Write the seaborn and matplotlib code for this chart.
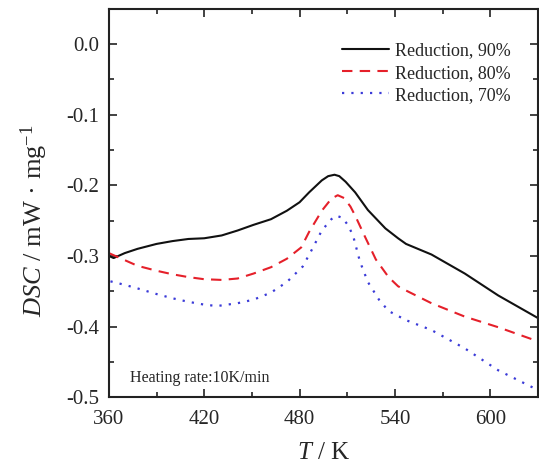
import matplotlib
matplotlib.use("Agg")
import matplotlib.pyplot as plt
import seaborn as sns
import pandas as pd
from matplotlib.ticker import MultipleLocator

# ---- data ----
t90 = [360, 363, 370, 378, 390, 400, 410, 420, 431, 441, 451, 462, 472, 480, 486,
       494, 498, 502, 505, 509, 515, 523, 534, 542, 547, 563, 584, 605, 630]
v90 = [-0.300, -0.303, -0.296, -0.290, -0.283, -0.279, -0.276, -0.275, -0.271, -0.264,
       -0.256, -0.248, -0.236, -0.224, -0.210, -0.193, -0.187, -0.185, -0.187, -0.195,
       -0.210, -0.235, -0.261, -0.275, -0.283, -0.298, -0.325, -0.356, -0.388]

t80 = [360, 370, 378, 390, 400, 410, 420, 431, 441, 451, 462, 472, 481, 486, 494,
       500, 504, 508, 512, 515, 521, 528, 536, 542, 547, 563, 584, 605, 630]
v80 = [-0.296, -0.306, -0.314, -0.321, -0.326, -0.330, -0.333, -0.334, -0.332, -0.325,
       -0.316, -0.304, -0.288, -0.266, -0.236, -0.219, -0.214, -0.218, -0.230, -0.243,
       -0.272, -0.305, -0.330, -0.343, -0.349, -0.367, -0.386, -0.401, -0.421]

t70 = [361, 370, 378, 390, 400, 410, 420, 428, 441, 451, 462, 472, 482, 488, 494,
       500, 503, 507, 511, 514, 518, 523, 530, 536, 547, 563, 584, 605, 630]
v70 = [-0.336, -0.341, -0.346, -0.354, -0.360, -0.365, -0.369, -0.371, -0.367, -0.362,
       -0.352, -0.337, -0.315, -0.290, -0.264, -0.248, -0.243, -0.246, -0.258, -0.274,
       -0.308, -0.337, -0.362, -0.378, -0.391, -0.405, -0.431, -0.462, -0.490]

labels = ["Reduction, 90%", "Reduction, 80%", "Reduction, 70%"]
colors = ["#111111", "#e5202a", "#3b3bd8"]

xticks = [360, 420, 480, 540, 600]
yticks = [0.0, -0.1, -0.2, -0.3, -0.4, -0.5]

sns.set_style("ticks")
plt.rcParams["font.family"] = ["Liberation Serif", "DejaVu Serif"]
plt.rcParams["mathtext.fontset"] = "custom"
plt.rcParams["mathtext.rm"] = "Liberation Serif"
plt.rcParams["mathtext.it"] = "Liberation Serif:italic"

fig = plt.figure(figsize=(5.39, 4.65), dpi=100)
ax = fig.add_axes([0.202, 0.146, 0.796, 0.835])

styles = [dict(linestyle="-", linewidth=1.5),
          dict(linestyle=(0, (5, 3.5)), linewidth=1.5),
          dict(linestyle=(0, (1, 3.2)), linewidth=1.6)]
for t, v, lab, c, st in zip([t90, t80, t70], [v90, v80, v70], labels, colors, styles):
    df = pd.DataFrame({"T": t, "DSC": v})
    sns.lineplot(data=df, x="T", y="DSC", ax=ax, color=c, label=lab, **st)

ax.set_xlim(360, 630)
ax.set_ylim(-0.5, 0.05)
ax.set_xticks(xticks)
ax.set_yticks(yticks)
ax.set_yticklabels([f"{y:.1f}" for y in yticks])
ax.xaxis.set_minor_locator(MultipleLocator(30))
ax.yaxis.set_minor_locator(MultipleLocator(0.05))
ax.tick_params(which="both", direction="in", top=True, right=True, labelsize=15,
               width=1.2, color="#222222")
ax.tick_params(which="major", length=6)
ax.tick_params(which="minor", length=3.5)
ax.tick_params(axis="x", pad=9)
ax.tick_params(axis="y", pad=7)
for s in ax.spines.values():
    s.set_linewidth(1.5)
    s.set_color("#222222")

ax.set_xlabel(r"$\mathit{T}$ / K", fontsize=18, labelpad=10)
ax.set_ylabel(r"$\mathit{DSC}$ / mW · mg$^{-1}$", fontsize=19)
ax.yaxis.set_label_coords(-0.138, 0.455)

leg = ax.legend(loc="upper right", frameon=False, fontsize=13, handlelength=2.6,
                handletextpad=0.35, labelspacing=0.28, bbox_to_anchor=(0.975, 0.955))

ax.text(0.05, 0.028, "Heating rate:10K/min", transform=ax.transAxes, fontsize=11.5,
        ha="left", va="bottom")

fig.savefig("out.png", dpi=100)
